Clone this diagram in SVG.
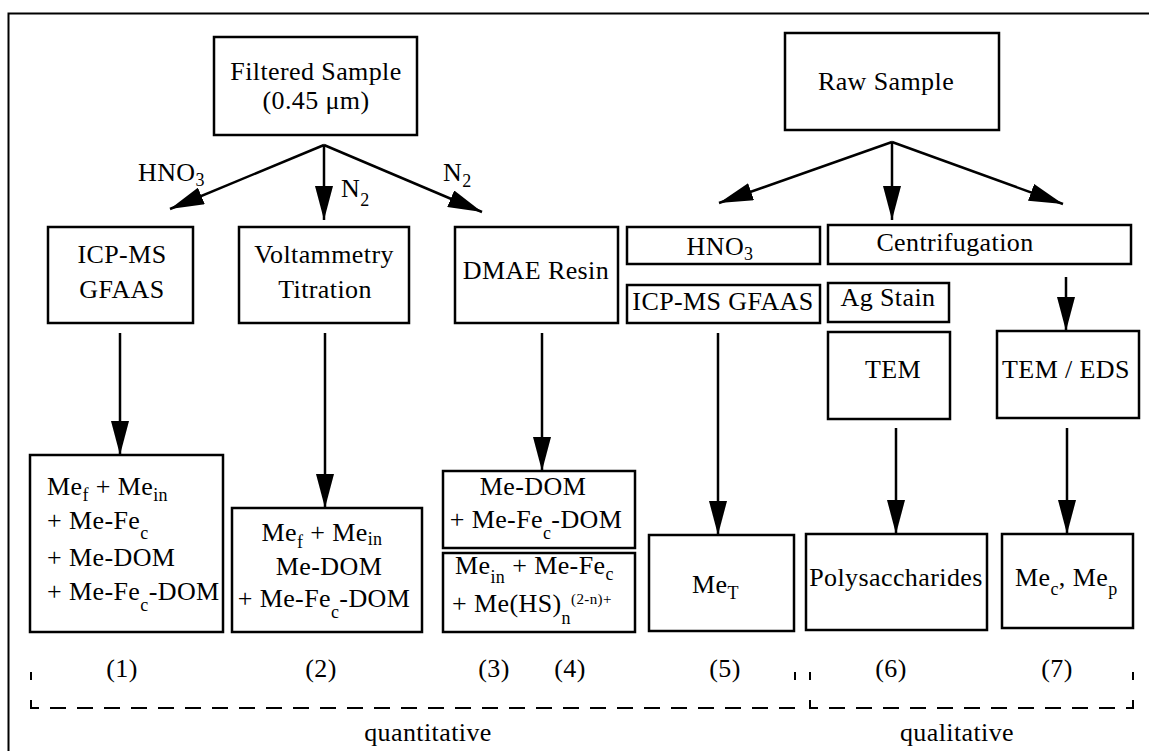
<svg xmlns="http://www.w3.org/2000/svg" width="1149" height="751" viewBox="0 0 1149 751">
  <defs>
    <style>
      .box { fill: none; stroke: #000; stroke-width: 2.5; }
      .t { font-family: "Liberation Serif", "Times New Roman", serif; font-size: 26px; fill: #000; letter-spacing: 0.4px; }
      .m { text-anchor: middle; }
      .s { font-size: 18px; }
      .sup { font-size: 15px; }
      .conn line { stroke: #000; stroke-width: 2.5; marker-end: url(#arrow); }
      .frame { fill: none; stroke: #000; stroke-width: 2; }
      .dash { fill: none; stroke: #000; stroke-width: 2; }
    </style>
    <marker id="arrow" markerUnits="userSpaceOnUse" viewBox="0 0 34 18" markerWidth="34" markerHeight="18" refX="34" refY="9" orient="auto">
      <path d="M0,0 L34,9 L0,18 Z" fill="#000"/>
    </marker>
  </defs>

  <rect width="1149" height="751" fill="#fff"/>

  <!-- outer frame -->
  <path class="frame" d="M8.5,751 V13.5 H1149"/>

  <!-- sources -->
  <g id="filtered-sample">
    <rect class="box" x="214" y="37" width="203" height="98"/>
    <text class="t m" x="316" y="80">Filtered Sample</text>
    <text class="t m" x="316" y="109">(0.45 μm)</text>
  </g>
  <g id="raw-sample">
    <rect class="box" x="785" y="33" width="214" height="97"/>
    <text class="t m" x="886" y="90">Raw Sample</text>
  </g>

  <!-- reagent labels on branches -->
  <g id="label-hno3">
    <text class="t" x="138" y="181">HNO<tspan class="s" dy="5">3</tspan></text>
  </g>
  <g id="label-n2-mid">
    <text class="t" x="341" y="197">N<tspan class="s" dy="9">2</tspan></text>
  </g>
  <g id="label-n2-right">
    <text class="t" x="443" y="181">N<tspan class="s" dy="6">2</tspan></text>
  </g>

  <!-- methods -->
  <g id="icpms-gfaas">
    <rect class="box" x="48" y="227" width="145" height="96"/>
    <text class="t m" x="122" y="263">ICP-MS</text>
    <text class="t m" x="122" y="298">GFAAS</text>
  </g>
  <g id="voltammetry">
    <rect class="box" x="239" y="227" width="170" height="96"/>
    <text class="t m" x="324" y="263">Voltammetry</text>
    <text class="t m" x="325" y="298">Titration</text>
  </g>
  <g id="dmae-resin">
    <rect class="box" x="455" y="227" width="163" height="96"/>
    <text class="t m" x="536" y="279">DMAE Resin</text>
  </g>
  <g id="hno3-digest">
    <rect class="box" x="627" y="227" width="193" height="37"/>
    <text class="t m" x="720" y="255">HNO<tspan class="s" dy="5">3</tspan></text>
  </g>
  <g id="icpms-gfaas-total">
    <rect class="box" x="627" y="285" width="193" height="38"/>
    <text class="t m" x="723" y="310">ICP-MS GFAAS</text>
  </g>
  <g id="centrifugation">
    <rect class="box" x="828" y="225" width="303" height="39"/>
    <text class="t m" x="955" y="251">Centrifugation</text>
  </g>
  <g id="ag-stain">
    <rect class="box" x="828" y="283" width="121" height="39"/>
    <text class="t m" x="888" y="306">Ag Stain</text>
  </g>
  <g id="tem">
    <rect class="box" x="828" y="332" width="122" height="87"/>
    <text class="t m" x="893" y="378">TEM</text>
  </g>
  <g id="tem-eds">
    <rect class="box" x="997" y="331" width="142" height="87"/>
    <text class="t m" x="1066" y="378">TEM / EDS</text>
  </g>

  <!-- fractions -->
  <g id="fraction-1">
    <rect class="box" x="30" y="455" width="193" height="177"/>
    <text class="t" x="47" y="495">Me<tspan class="s" dy="6">f</tspan><tspan dy="-6"> + Me</tspan><tspan class="s" dy="6">in</tspan></text>
    <text class="t" x="47" y="529">+ Me-Fe<tspan class="s" dy="10">c</tspan></text>
    <text class="t" x="47" y="566">+ Me-DOM</text>
    <text class="t" x="47" y="600">+ Me-Fe<tspan class="s" dy="11">c</tspan><tspan dy="-11">-DOM</tspan></text>
  </g>
  <g id="fraction-2">
    <rect class="box" x="232" y="508" width="190" height="124"/>
    <text class="t m" x="322" y="541">Me<tspan class="s" dy="7">f</tspan><tspan dy="-7"> + Me</tspan><tspan class="s" dy="4">in</tspan></text>
    <text class="t m" x="329" y="575">Me-DOM</text>
    <text class="t m" x="324" y="607">+ Me-Fe<tspan class="s" dy="11">c</tspan><tspan dy="-11">-DOM</tspan></text>
  </g>
  <g id="fraction-3">
    <rect class="box" x="443" y="471" width="192" height="77"/>
    <text class="t m" x="533" y="495">Me-DOM</text>
    <text class="t m" x="536" y="528">+ Me-Fe<tspan class="s" dy="11">c</tspan><tspan dy="-11">-DOM</tspan></text>
  </g>
  <g id="fraction-4">
    <rect class="box" x="443" y="553" width="192" height="79"/>
    <text class="t" x="455" y="574">Me<tspan class="s" dy="9">in</tspan><tspan dy="-9"> + Me-Fe</tspan><tspan class="s" dy="6">c</tspan></text>
    <text class="t" x="452" y="612">+ Me(HS)<tspan class="s" dy="12">n</tspan><tspan class="sup" dy="-20">(2-n)+</tspan></text>
  </g>
  <g id="fraction-5">
    <rect class="box" x="649" y="535" width="145" height="96"/>
    <text class="t" x="692" y="593">Me<tspan class="s" dy="6">T</tspan></text>
  </g>
  <g id="fraction-6">
    <rect class="box" x="806" y="534" width="181" height="96"/>
    <text class="t m" x="896" y="586">Polysaccharides</text>
  </g>
  <g id="fraction-7">
    <rect class="box" x="1002" y="534" width="131" height="94"/>
    <text class="t" x="1015" y="586">Me<tspan class="s" dy="9">c</tspan><tspan dy="-9">, Me</tspan><tspan class="s" dy="9">p</tspan></text>
  </g>

  <!-- fraction numbers -->
  <g id="fraction-numbers" class="t m">
    <text x="122" y="677">(1)</text>
    <text x="321" y="677">(2)</text>
    <text x="494" y="677">(3)</text>
    <text x="570" y="677">(4)</text>
    <text x="725" y="677">(5)</text>
    <text x="891" y="677">(6)</text>
    <text x="1057" y="677">(7)</text>
  </g>

  <!-- quantitative / qualitative brackets -->
  <g id="bracket-quantitative">
    <line class="dash" x1="31" y1="672" x2="31" y2="680"/>
    <path class="dash" d="M31,700 V708 H795 V700" stroke-dasharray="16,11"/>
    <line class="dash" x1="795" y1="672" x2="795" y2="680"/>
    <text class="t m" x="428" y="741">quantitative</text>
  </g>
  <g id="bracket-qualitative">
    <line class="dash" x1="810" y1="672" x2="810" y2="680"/>
    <path class="dash" d="M810,700 V708 H1133 V700" stroke-dasharray="16,11"/>
    <line class="dash" x1="1133" y1="672" x2="1133" y2="680"/>
    <text class="t m" x="957" y="741">qualitative</text>
  </g>

  <!-- connectors -->
  <g id="connectors" class="conn">
    <line x1="324" y1="145" x2="170" y2="209"/>
    <line x1="324" y1="145" x2="324" y2="220"/>
    <line x1="324" y1="145" x2="482" y2="212"/>
    <line x1="892" y1="142" x2="719" y2="203"/>
    <line x1="892" y1="142" x2="892" y2="220"/>
    <line x1="892" y1="142" x2="1063" y2="204"/>
    <line x1="120" y1="333" x2="120" y2="455"/>
    <line x1="325" y1="333" x2="325" y2="508"/>
    <line x1="542" y1="333" x2="542" y2="471"/>
    <line x1="718" y1="333" x2="718" y2="535"/>
    <line x1="1066" y1="277" x2="1066" y2="331"/>
    <line x1="896" y1="428" x2="896" y2="534"/>
    <line x1="1067" y1="428" x2="1067" y2="534"/>
  </g>
</svg>
